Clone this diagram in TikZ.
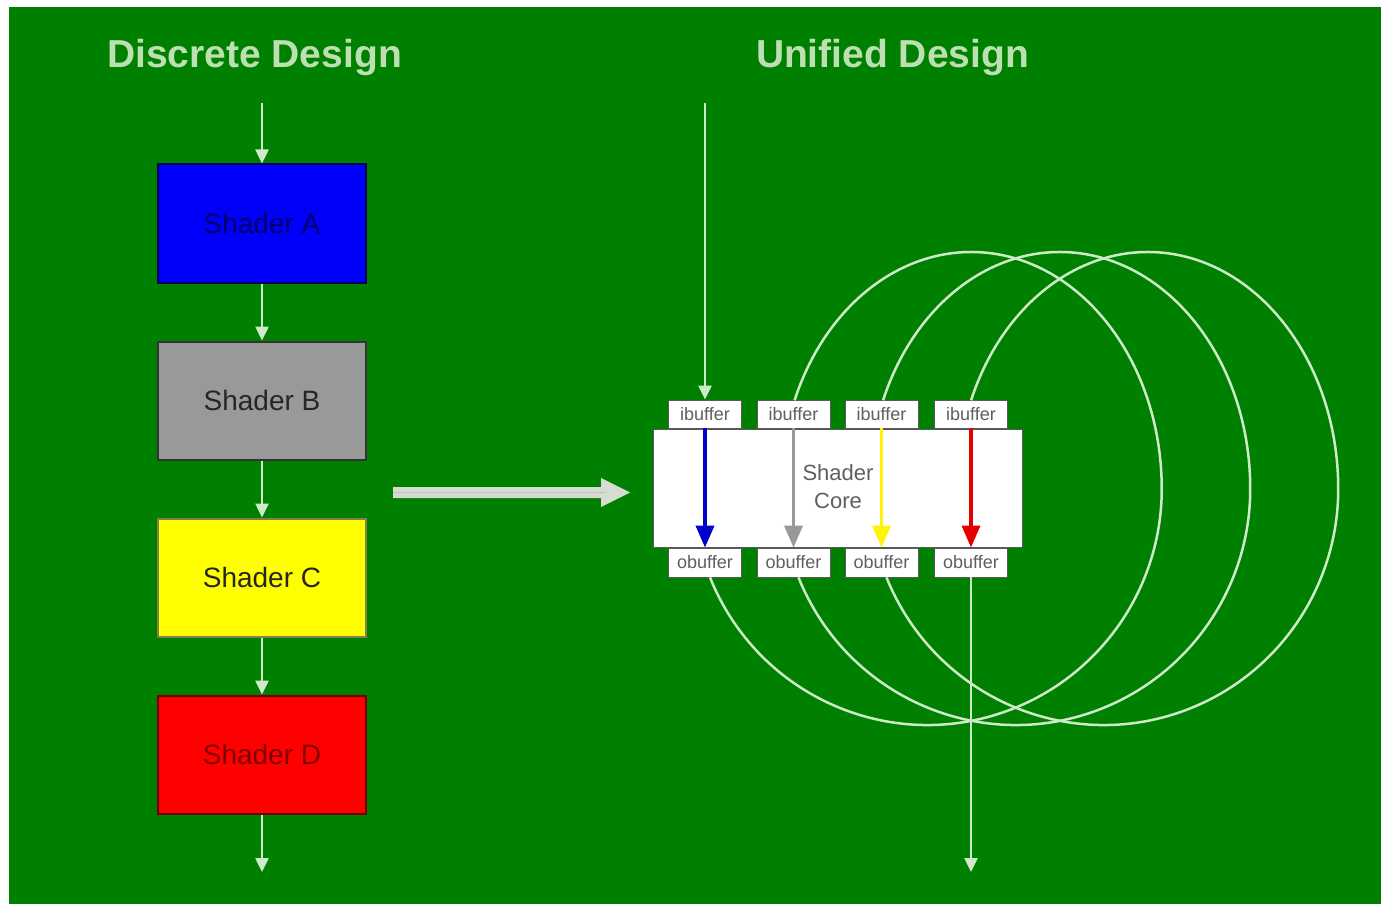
\documentclass[tikz,border=0pt]{standalone}
\usepackage{fontspec}
\setmainfont{Liberation Sans}
\usetikzlibrary{arrows.meta}

\definecolor{bg}{RGB}{0,128,0}
\definecolor{flow}{RGB}{205,235,200}
\definecolor{headtxt}{RGB}{188,224,178}
\definecolor{fatarrow}{RGB}{214,220,210}
\definecolor{buftxt}{RGB}{95,95,95}
\definecolor{aBlue}{RGB}{0,0,250}
\definecolor{aGray}{RGB}{153,153,153}
\definecolor{aYellow}{RGB}{255,255,0}
\definecolor{aRed}{RGB}{255,0,0}

\tikzset{
  heading/.style={text=headtxt, font=\fontsize{39}{44}\selectfont\bfseries, inner sep=0pt},
  flowline/.style={draw=flow, line width=2.5pt, -{Triangle[width=13pt,length=14pt]}},
  loopline/.style={draw=flow, line width=2.5pt},
  shaderbox/.style={minimum width=208pt, minimum height=118pt, inner sep=0pt,
    line width=2pt, font=\fontsize{28}{32}\selectfont},
  buf/.style={draw=gray!70!black, fill=white, line width=0.8pt, inner sep=0pt,
    minimum width=73pt, text=buftxt, font=\fontsize{18}{20}\selectfont},
  corebox/.style={draw=gray!70!black, fill=white, line width=0.8pt, inner sep=0pt,
    minimum width=369pt, minimum height=118pt},
  passline/.style={line width=3.5pt, -{Triangle[width=18pt,length=22pt]}}
}

\begin{document}
\begin{tikzpicture}[x=1pt,y=-1pt]
\useasboundingbox (0,0) rectangle (1381,904);
\fill[white] (0,0) rectangle (1381,904);
\fill[bg] (9,7) rectangle (1381,904);

% headings
\node[heading] (t1) at (254.5,58) {Discrete Design};
\node[heading] (t2) at (892.5,58) {Unified Design};

% discrete pipeline: one box per shader stage
\node[shaderbox, fill=aBlue, draw=blue!35!black, text=blue!40!black] (sa) at (262,223.5) {Shader A};
\node[shaderbox, fill=aGray, draw=gray!40!black, text=black!85] (sb) at (262,400.5) {Shader B};
\node[shaderbox, fill=aYellow, draw=yellow!45!black, text=black!85] (sc) at (262,577.5) {Shader C};
\node[shaderbox, fill=aRed, draw=red!45!black, text=red!50!black] (sd) at (262,754.5) {Shader D};
\coordinate (din) at (262,103);
\coordinate (dout) at (262,872);
\draw[flowline] (din) -- (sa.north);
\draw[flowline] (sa.south) -- (sb.north);
\draw[flowline] (sb.south) -- (sc.north);
\draw[flowline] (sc.south) -- (sd.north);
\draw[flowline] (sd.south) -- (dout);

% fat arrow between the two designs
\coordinate (fatL) at (393,492.5);
\coordinate (fatR) at (630,492.5);
\fill[fatarrow] (393,487) -- (601,487) -- (601,478) -- (fatR) -- (601,507) -- (601,498) -- (393,498) -- cycle;
\draw[gray!50, line width=1.2pt] (fatL) -- (605,492.5);

% unified design: shared core with input/output buffers
\node[corebox] (core) at (837.5,488) {};
\node[text=buftxt, align=center, font=\fontsize{22}{28}\selectfont] (clabel) at (838,487) {Shader\\Core};
\foreach \i/\x in {1/705,2/793.5,3/881.5,4/971}{
  \node[buf, minimum height=28pt] (ib\i) at (\x,414) {ibuffer};
  \node[buf, minimum height=29pt] (ob\i) at (\x,562.5) {obuffer};
}

% passes through the core
\draw[passline, draw=blue!80!black] (ib1.south) -- (ob1.north);
\draw[passline, draw=aGray] (ib2.south) -- (ob2.north);
\draw[passline, draw=yellow!95!white] (ib3.south) -- (ob3.north);
\draw[passline, draw=red!90!black] (ib4.south) -- (ob4.north);

% feedback loops: each output buffer feeds the next input buffer
\draw[loopline] ([xshift=5pt]ob1.south) arc[start angle=158, end angle=0, x radius=234.4, y radius=236]
  arc[start angle=360, end angle=202, x radius=190.5, y radius=237];
\draw[loopline] ([xshift=5pt]ob2.south) arc[start angle=158, end angle=0, x radius=234.4, y radius=236]
  arc[start angle=360, end angle=202, x radius=190.5, y radius=237];
\draw[loopline] ([xshift=5pt]ob3.south) arc[start angle=158, end angle=0, x radius=234.4, y radius=236]
  arc[start angle=360, end angle=202, x radius=190.5, y radius=237];

% input and output of the unified core
\coordinate (uin) at (705,103);
\coordinate (uout) at (971,872);
\draw[flowline] (uin) -- (ib1.north);
\draw[flowline] (ob4.south) -- (uout);
\end{tikzpicture}
\end{document}
